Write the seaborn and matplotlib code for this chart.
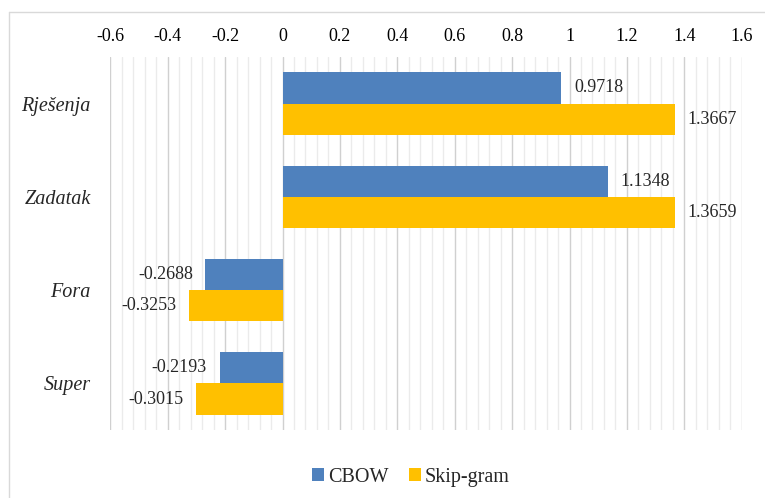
import numpy as np
import pandas as pd
import matplotlib
matplotlib.use("Agg")
import matplotlib.pyplot as plt
from matplotlib.lines import Line2D
from matplotlib.ticker import MultipleLocator
import seaborn as sns

# Word-embedding scores per word and model
words = ["Rješenja", "Zadatak", "Fora", "Super"]
cbow = [0.9718, 1.1348, -0.2688, -0.2193]
skipgram = [1.3667, 1.3659, -0.3253, -0.3015]
models = ["CBOW", "Skip-gram"]
palette = ["#4F81BD", "#FFC000"]

df = pd.DataFrame({
    "word": words * 2,
    "score": cbow + skipgram,
    "model": [models[0]] * len(words) + [models[1]] * len(words),
})

sns.set_theme(style="white")
plt.rcParams["font.family"] = ["Liberation Serif", "DejaVu Serif"]

fig = plt.figure(figsize=(7.65, 4.98), dpi=100)
ax = fig.add_axes([0.1442, 0.1365, 0.9696 - 0.1442, 0.8855 - 0.1365])

sns.barplot(data=df, x="score", y="word", hue="model", order=words,
            hue_order=models, palette=palette, orient="h", width=0.672,
            gap=0, saturation=1, linewidth=0, errorbar=None, ax=ax)

ax.set_xlim(-0.6, 1.6)
ax.xaxis.set_major_locator(MultipleLocator(0.2))
ax.xaxis.set_minor_locator(MultipleLocator(0.04))
ax.xaxis.tick_top()
ax.xaxis.set_label_position("top")
ax.tick_params(axis="x", which="both", length=0, pad=9, labelsize=13,
               colors="#000000")
ax.set_xticklabels([f"{v:g}" for v in ax.get_xticks()])
ax.tick_params(axis="y", length=0, pad=14, labelsize=14.5)
for lbl in ax.get_yticklabels():
    lbl.set_style("italic")

ax.grid(True, axis="x", which="major", color="#D0D0D0", linewidth=1)
ax.grid(True, axis="x", which="minor", color="#EBEBEB", linewidth=1)
ax.set_axisbelow(True)
for s in ax.spines.values():
    s.set_visible(False)
ax.set_xlabel("")
ax.set_ylabel("")

for cont in ax.containers:
    ax.bar_label(cont, labels=[f"{v:.4f}" for v in cont.datavalues],
                 padding=9, fontsize=13)

ax.legend(loc="center", bbox_to_anchor=(411 / 765, (498 - 477) / 498),
          bbox_transform=fig.transFigure, ncol=2, frameon=False,
          fontsize=14.5, handlelength=0.6, handleheight=0.6,
          handletextpad=0.2, columnspacing=1.0)

# chart-area frame along the top and left edges
x0 = 9 / 765
y0 = 1 - 12 / 498
fig.add_artist(Line2D([x0, 1], [y0, y0], transform=fig.transFigure,
                      color="#D9D9D9", linewidth=1))
fig.add_artist(Line2D([x0, x0], [0, y0], transform=fig.transFigure,
                      color="#D9D9D9", linewidth=1))

fig.savefig("out.png", dpi=100)
